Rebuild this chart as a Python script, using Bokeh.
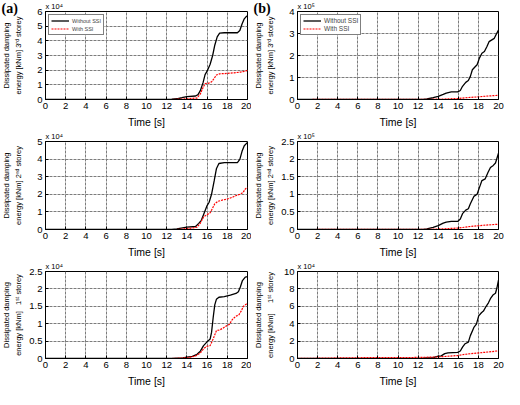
import math
from bokeh.plotting import figure
from bokeh.layouts import gridplot
from bokeh.models import Range1d, FixedTicker, Label, Legend, LegendItem
from bokeh.embed import file_html
from bokeh.resources import INLINE

FONT = "Liberation Sans"

# ---------------- data ----------------
time_ticks = [0, 2, 4, 6, 8, 10, 12, 14, 16, 18, 20]
time_tick_labels = ["0", "2", "4", "6", "8", "10", "12", "14", "16", "18", "20"]
series_names = ["Without SSI", "With SSI"]

# (a) 3rd storey  [x 10^4 kNm]
a3_t_without = [0, 12, 12.5, 13, 13.5, 14, 14.86, 15.1, 15.33, 15.6, 15.8, 16.0, 16.3, 16.55, 16.76, 17.0, 17.24, 17.7, 19.0, 19.24, 19.46, 19.68, 19.87, 20]
a3_y_without = [0, 0, 0.02, 0.05, 0.12, 0.2, 0.24, 0.33, 0.6, 1.15, 1.7, 1.93, 2.4, 3.0, 3.7, 4.27, 4.53, 4.55, 4.55, 4.7, 5.15, 5.5, 5.65, 5.7]
a3_t_with = [0, 12.5, 14, 15, 15.33, 15.6, 15.8, 16.1, 16.44, 16.7, 16.92, 17.24, 18.0, 18.67, 19.3, 19.78, 20]
a3_y_with = [0, 0, 0.05, 0.1, 0.38, 0.82, 1.09, 1.1, 1.2, 1.44, 1.67, 1.75, 1.78, 1.82, 1.87, 1.93, 2.0]
a3_yticks = [0, 1, 2, 3, 4, 5, 6]
a3_ytick_labels = ["0", "1", "2", "3", "4", "5", "6"]

# (b) 3rd storey  [x 10^5 kNm]
b3_t_without = [0, 12.5, 12.87, 13.5, 14, 14.5, 14.8, 15.3, 15.94, 16.2, 16.42, 16.74, 17.0, 17.2, 17.4, 17.7, 17.87, 18.1, 18.35, 18.6, 18.84, 19.06, 19.3, 19.58, 19.74, 20]
b3_y_without = [0, 0.01, 0.03, 0.08, 0.14, 0.23, 0.29, 0.35, 0.35, 0.41, 0.6, 0.78, 0.86, 1.05, 1.35, 1.5, 1.58, 1.88, 2.1, 2.18, 2.4, 2.63, 2.7, 2.78, 2.93, 3.16]
b3_t_with = [0, 13, 14.5, 16, 17, 18, 19, 20]
b3_y_with = [0, 0.01, 0.02, 0.05, 0.09, 0.12, 0.16, 0.19]
b3_yticks = [0, 1, 2, 3, 4]
b3_ytick_labels = ["0", "1", "2", "3", "4"]

# (a) 2nd storey  [x 10^4 kNm]
a2_t_without = [0, 12.5, 13, 14, 14.86, 15.17, 15.43, 15.75, 16.0, 16.2, 16.44, 16.7, 16.92, 17.17, 17.7, 19.0, 19.24, 19.46, 19.68, 20]
a2_y_without = [0, 0, 0.04, 0.13, 0.17, 0.35, 0.52, 1.0, 1.36, 1.55, 2.0, 2.76, 3.45, 3.75, 3.8, 3.8, 3.98, 4.44, 4.76, 4.95]
a2_t_with = [0, 13, 14.5, 15, 15.3, 15.65, 15.97, 16.3, 16.54, 16.76, 17.08, 17.56, 18.0, 18.5, 18.83, 19.24, 19.56, 19.78, 20]
a2_y_with = [0, 0, 0.08, 0.13, 0.33, 0.71, 0.84, 0.95, 1.21, 1.46, 1.6, 1.68, 1.73, 1.83, 1.92, 2.0, 2.1, 2.3, 2.4]
a2_yticks = [0, 1, 2, 3, 4, 5]
a2_ytick_labels = ["0", "1", "2", "3", "4", "5"]

# (b) 2nd storey  [x 10^5 kNm]
b2_t_without = [0, 12.5, 12.87, 13.5, 14, 14.5, 14.8, 15.3, 15.94, 16.2, 16.42, 16.74, 17.0, 17.2, 17.55, 17.87, 18.1, 18.35, 18.68, 18.94, 19.2, 19.48, 19.7, 20]
b2_y_without = [0, 0.005, 0.02, 0.06, 0.11, 0.18, 0.21, 0.23, 0.23, 0.3, 0.45, 0.55, 0.59, 0.73, 0.94, 1.0, 1.19, 1.39, 1.44, 1.61, 1.76, 1.82, 1.89, 2.17]
b2_t_with = [0, 13, 14.5, 16, 17, 18.5, 20]
b2_y_with = [0, 0.005, 0.02, 0.04, 0.08, 0.12, 0.15]
b2_yticks = [0, 0.5, 1, 1.5, 2, 2.5]
b2_ytick_labels = ["0", "0.5", "1", "1.5", "2", "2.5"]

# (a) 1st storey  [x 10^4 kNm]
a1_t_without = [0, 12.5, 13.6, 14, 14.54, 15.0, 15.33, 15.65, 15.97, 16.3, 16.44, 16.6, 16.76, 16.92, 17.17, 17.7, 18.3, 18.86, 19.1, 19.3, 19.5, 19.78, 20]
a1_y_without = [0, 0, 0.02, 0.04, 0.06, 0.12, 0.21, 0.37, 0.47, 0.56, 0.75, 1.17, 1.54, 1.7, 1.76, 1.78, 1.82, 1.87, 1.92, 2.06, 2.24, 2.34, 2.35]
a1_t_with = [0, 12.5, 14, 14.86, 15.33, 15.65, 15.97, 16.3, 16.6, 16.92, 17.24, 17.56, 17.87, 18.2, 18.5, 18.83, 19.16, 19.37, 19.6, 19.87, 20]
a1_y_with = [0, 0, 0.02, 0.07, 0.16, 0.28, 0.35, 0.37, 0.56, 0.8, 0.82, 0.87, 0.93, 0.98, 1.12, 1.21, 1.26, 1.36, 1.5, 1.56, 1.56]
a1_yticks = [0, 0.5, 1, 1.5, 2, 2.5]
a1_ytick_labels = ["0", "0.5", "1", "1.5", "2", "2.5"]

# (b) 1st storey  [x 10^4 kNm]
b1_t_without = [0, 12.5, 12.87, 13.5, 14, 14.3, 14.65, 14.97, 15.45, 15.94, 16.2, 16.42, 16.68, 17.0, 17.2, 17.55, 17.8, 18.03, 18.3, 18.5, 18.77, 19.0, 19.23, 19.48, 19.7, 19.84, 20]
b1_y_without = [0, 0.03, 0.08, 0.11, 0.26, 0.3, 0.56, 0.64, 0.68, 0.71, 0.86, 1.3, 1.7, 1.88, 2.63, 3.57, 3.95, 4.9, 5.26, 5.45, 6.0, 6.4, 6.95, 7.33, 7.5, 8.1, 9.0]
b1_t_with = [0, 5, 8, 12, 13, 14, 15.94, 16.74, 18, 19, 20]
b1_y_with = [0, 0.08, 0.1, 0.12, 0.15, 0.18, 0.34, 0.49, 0.64, 0.75, 0.88]
b1_yticks = [0, 2, 4, 6, 8, 10]
b1_ytick_labels = ["0", "2", "4", "6", "8", "10"]

NB = "\u00a0"
ylabel_line1 = "Dissipated damping"
ylabels_line2 = {
    "a3": "energy [kNm] 3\u02b3\u1d48 storey",
    "b3": "energy [kNm] 3\u02b3\u1d48 storey",
    "a2": "energy [kNm] 2\u207f\u1d48 storey",
    "b2": "energy [kNm] 2\u207f\u1d48 storey",
    "a1": "energy [kNm]" + NB * 3 + "1\u02e2\u1d57 storey",
    "b1": "energy [kNm]" + NB * 5 + "1\u02e2\u1d57 storey",
}
SUP = {"4": "\u2074", "5": "\u2075"}


def panel(width, bl, br, height, bt, bb, t_wo, y_wo, t_w, y_w, yticks, ytick_labels,
          ylab2, exponent, letter=None, legend_font=None):
    ymax = yticks[-1]
    p = figure(width=width, height=height, x_range=Range1d(0, 20), y_range=Range1d(0, ymax),
               output_backend="svg", toolbar_location=None,
               min_border_left=bl, min_border_right=br, min_border_top=bt, min_border_bottom=bb,
               background_fill_color="white", border_fill_color="white")
    p.outline_line_color = "black"
    p.outline_line_width = 1
    p.xaxis.ticker = FixedTicker(ticks=time_ticks)
    p.xaxis.major_label_overrides = {t: s for t, s in zip(time_ticks, time_tick_labels)}
    p.yaxis.ticker = FixedTicker(ticks=yticks)
    p.yaxis.major_label_overrides = {t: s for t, s in zip(yticks, ytick_labels)}
    for ax in (p.xaxis[0], p.yaxis[0]):
        ax.major_tick_in = 3
        ax.major_tick_out = 0
        ax.minor_tick_line_color = None
        ax.axis_line_color = "black"
        ax.major_tick_line_color = "black"
        ax.major_label_text_font = FONT
        ax.major_label_text_font_size = "9.5px"
        ax.major_label_text_color = "black"
        ax.major_label_standoff = 3
    p.xaxis.axis_label = "Time [s]"
    p.xaxis.axis_label_text_font = FONT
    p.xaxis.axis_label_text_font_size = "10.5px"
    p.xaxis.axis_label_text_font_style = "normal"
    p.xaxis.axis_label_text_color = "black"
    p.xaxis.axis_label_standoff = 4
    p.grid.grid_line_color = "#7c7c7c"
    p.grid.grid_line_width = 1
    p.grid.grid_line_dash = "3 1"

    r_wo = p.line(t_wo, y_wo, line_color="black", line_width=1.3)
    r_w = p.line(t_w, y_w, line_color="red", line_width=1.2, line_dash="2 1")

    # two-line y label (side panel, so it is not clipped to the frame)
    for off, txt in ((-39, ylabel_line1), (-27, ylab2)):
        p.add_layout(Label(x=0, y=ymax / 2, x_units="data", y_units="data", x_offset=off,
                           text=txt, angle=math.pi / 2, text_align="center",
                           text_baseline="middle", text_font=FONT, text_font_size="7.5px",
                           text_color="black"), "left")

    # multiplier above the frame
    p.add_layout(Label(x=0, y=ymax, x_units="data", y_units="data", y_offset=1,
                       text="x 10" + SUP[exponent], text_align="left", text_baseline="bottom",
                       text_font=FONT, text_font_size="7.5px", text_color="black"), "above")
    if letter:
        p.add_layout(Label(x=0, y=ymax, x_units="data", y_units="data", x_offset=-bl, y_offset=-4,
                           text=letter, text_align="left", text_baseline="bottom",
                           text_font="Liberation Serif", text_font_style="bold",
                           text_font_size="14px", text_color="black"), "left")
    if legend_font:
        dot = p.scatter(x=[], y=[], marker="circle", size=3, color="red")
        lg = Legend(items=[LegendItem(label=series_names[0], renderers=[r_wo]),
                           LegendItem(label=series_names[1], renderers=[r_w, dot])],
                    location="top_left", margin=3, padding=2, spacing=1,
                    glyph_width=18, glyph_height=7, label_height=7, label_width=10,
                    label_standoff=3, label_text_font=FONT, label_text_font_size=legend_font,
                    border_line_color="black", border_line_width=0.8,
                    background_fill_color="white", background_fill_alpha=1)
        p.add_layout(lg)
    return p


LW, LBL, LBR = 251, 44, 4
RW, RBL, RBR = 253, 44, 6
H12, H3 = 130, 129
BT, BB = 11, 31

pa3 = panel(LW, LBL, LBR, H12, BT, BB, a3_t_without, a3_y_without, a3_t_with, a3_y_with,
            a3_yticks, a3_ytick_labels, ylabels_line2["a3"], "4", letter="(a)", legend_font="5.5px")
pb3 = panel(RW, RBL, RBR, H12, BT, BB, b3_t_without, b3_y_without, b3_t_with, b3_y_with,
            b3_yticks, b3_ytick_labels, ylabels_line2["b3"], "5", letter="(b)", legend_font="6.5px")
pa2 = panel(LW, LBL, LBR, H12, BT, BB, a2_t_without, a2_y_without, a2_t_with, a2_y_with,
            a2_yticks, a2_ytick_labels, ylabels_line2["a2"], "4")
pb2 = panel(RW, RBL, RBR, H12, BT, BB, b2_t_without, b2_y_without, b2_t_with, b2_y_with,
            b2_yticks, b2_ytick_labels, ylabels_line2["b2"], "5")
pa1 = panel(LW, LBL, LBR, H3, BT, BB, a1_t_without, a1_y_without, a1_t_with, a1_y_with,
            a1_yticks, a1_ytick_labels, ylabels_line2["a1"], "4")
pb1 = panel(RW, RBL, RBR, H3, BT, BB, b1_t_without, b1_y_without, b1_t_with, b1_y_with,
            b1_yticks, b1_ytick_labels, ylabels_line2["b1"], "4")

grid = gridplot([[pa3, pb3], [pa2, pb2], [pa1, pb1]], toolbar_location=None)

open("out.html", "w").write(file_html(grid, INLINE))
